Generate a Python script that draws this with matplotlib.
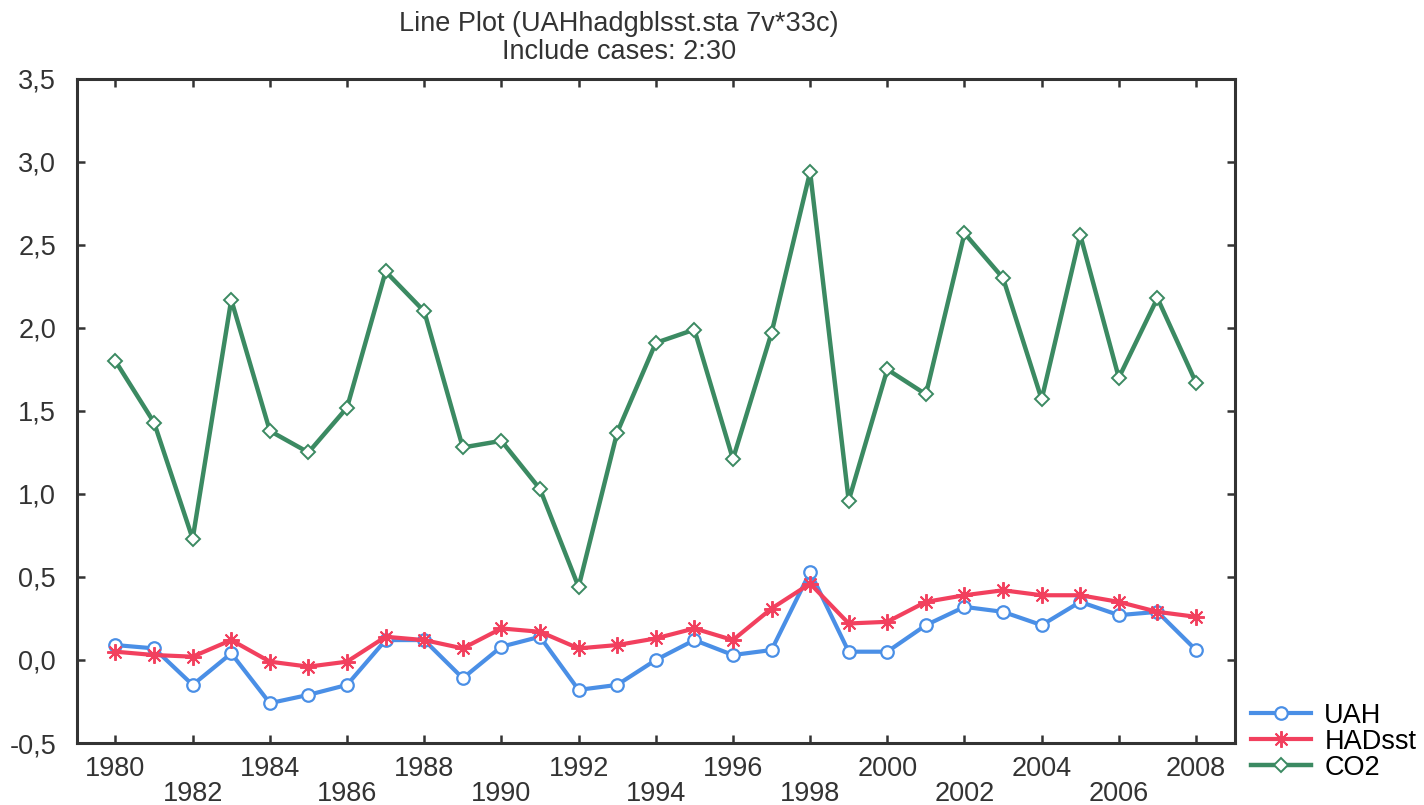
import numpy as np
import matplotlib
matplotlib.use("Agg")
import matplotlib.pyplot as plt

# data
years = list(range(1980, 2009))
uah = [0.09, 0.07, -0.15, 0.04, -0.26, -0.21, -0.15, 0.12, 0.12, -0.11,
       0.08, 0.14, -0.18, -0.15, 0.00, 0.12, 0.03, 0.06, 0.53, 0.05,
       0.05, 0.21, 0.32, 0.29, 0.21, 0.35, 0.27, 0.29, 0.06]
hadsst = [0.05, 0.03, 0.02, 0.12, -0.01, -0.04, -0.01, 0.14, 0.12, 0.07,
          0.19, 0.17, 0.07, 0.09, 0.13, 0.19, 0.12, 0.31, 0.46, 0.22,
          0.23, 0.35, 0.39, 0.42, 0.39, 0.39, 0.35, 0.29, 0.26]
co2 = [1.80, 1.43, 0.73, 2.17, 1.38, 1.25, 1.52, 2.34, 2.10, 1.28,
       1.32, 1.03, 0.44, 1.37, 1.91, 1.99, 1.21, 1.97, 2.94, 0.96,
       1.75, 1.60, 2.57, 2.30, 1.57, 2.56, 1.70, 2.18, 1.67]
xticks = list(range(1980, 2009, 2))
yticks = [-0.5, 0.0, 0.5, 1.0, 1.5, 2.0, 2.5, 3.0, 3.5]

plt.rcParams['font.family'] = ['Liberation Sans', 'DejaVu Sans']

fig = plt.figure(figsize=(14.24, 8.05), dpi=100)
ax = fig.add_axes([0.054, 0.077, 0.813, 0.825])

# plot the three series
ax.plot(years, uah, color='#4a8fe6', lw=3.0, marker='o', ms=9,
        mfc='white', mec='#4a8fe6', mew=1.6, label='UAH')
ax.plot(years, hadsst, color='#f2405e', lw=3.0, marker=(8, 2, 0), ms=12,
        mec='#f2405e', mew=1.4, label='HADsst')
ax.plot(years, co2, color='#3b8a62', lw=3.2, marker='D', ms=7,
        mfc='white', mec='#3b8a62', mew=1.4, label='CO2')

ax.set_xlim(1979, 2009)
ax.set_ylim(-0.5, 3.5)
ax.set_xticks(xticks)
ax.set_xticklabels([str(y) if i % 2 == 0 else '\n' + str(y) for i, y in enumerate(xticks)],
                   linespacing=0.98)
ax.set_yticks(yticks)
ax.set_yticklabels([f"{v:.1f}".replace('.', ',') for v in yticks])

ax.tick_params(direction='in', length=6, width=1.8, top=True, right=True,
               labelsize=19.5, colors='#333333', labelcolor='#333333')
ax.tick_params(axis='x', pad=9)
ax.tick_params(axis='y', pad=15)
for s in ax.spines.values():
    s.set_linewidth(2.2)
    s.set_color('#333333')

ax.set_title("Line Plot (UAHhadgblsst.sta 7v*33c)\nInclude cases: 2:30",
             fontsize=19.5, color='#333333', x=0.468, pad=14, linespacing=1.1)

ax.legend(loc='lower left', bbox_to_anchor=(1.005, -0.073), frameon=False,
          fontsize=19.5, handlelength=2.2, handletextpad=0.5, labelspacing=0.0,
          borderaxespad=0.0)

fig.savefig("out.png", dpi=100)
